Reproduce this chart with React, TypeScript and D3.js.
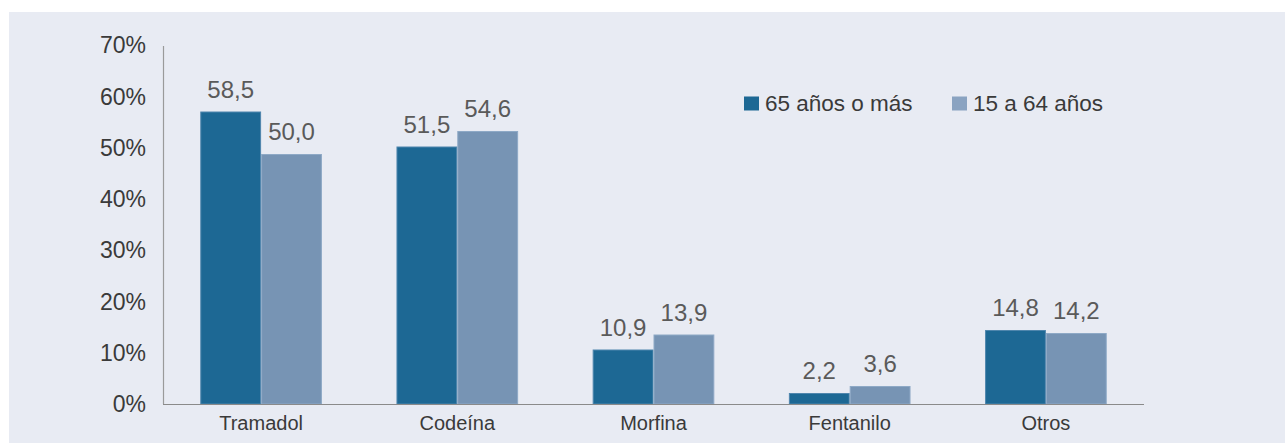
import React from 'react';
import {scaleBand, scaleLinear} from 'd3';

// datos
const categories = ['Tramadol', 'Codeína', 'Morfina', 'Fentanilo', 'Otros'];
const seriesNames = ['65 años o más', '15 a 64 años'];
const mayores = [58.5, 51.5, 10.9, 2.2, 14.8];
const jovenes = [50.0, 54.6, 13.9, 3.6, 14.2];
const yTicks = [0, 10, 20, 30, 40, 50, 60, 70];

const W = 1285;
const H = 443;
const colors = ['#1d6894', '#7794b4'];
const strokes = ['#4f86ad', '#8ea9c6'];
const legendColors = ['#1d6894', '#8aa3c1'];
const font = '"Liberation Sans", Arial, sans-serif';

const App = () => {
    const x = scaleBand().domain(categories).range([163, 1144]).paddingInner(0.38).paddingOuter(0.19);
    const sub = scaleBand().domain(['0', '1']).range([0, x.bandwidth()]);
    // eje de etiquetas
    const yAxis = scaleLinear().domain([0, 70]).range([404, 45]);
    // barras (el original las dibuja con una escala algo más corta)
    const yBar = scaleLinear().domain([0, 70]).range([404, 54]);
    const series = [mayores, jovenes];
    const fmt = (v: number) => v.toFixed(1).replace('.', ',');

    return (
        <svg width={W} height={H} style={{display: 'block', position: 'absolute', left: 0, top: 0}}>
            <rect x={0} y={0} width={W} height={H} fill="#fff"/>
            <rect x={9} y={12} width={W - 9} height={H - 12} fill="#e8ebf3"/>

            {yTicks.map(t => (
                <text key={t} x={146} y={yAxis(t)} dy="0.36em" textAnchor="end"
                      fontFamily={font} fontSize={23} fill="#3a3a3a">{t}%</text>
            ))}

            {series.map((vals, si) => vals.map((v, i) => {
                const bx = (x(categories[i]) as number) + (sub(String(si)) as number);
                const bw = sub.bandwidth();
                const top = yBar(v);
                return (
                    <g key={si + '-' + i}>
                        <rect x={bx + 0.5} y={top + 0.5} width={bw - 1} height={404 - top - 0.5}
                              fill={colors[si]} stroke={strokes[si]} strokeWidth={1}/>
                        <text x={bx + bw / 2} y={top - 14} textAnchor="middle"
                              fontFamily={font} fontSize={24} fill="#5a5a5a">{fmt(v)}</text>
                    </g>
                );
            }))}

            <line x1={163.5} x2={163.5} y1={46} y2={404} stroke="#9a9a9a" strokeWidth={1.2}/>
            <line x1={163} x2={1144} y1={404.5} y2={404.5} stroke="#8a8a8a" strokeWidth={1.2}/>

            {categories.map(c => (
                <text key={c} x={(x(c) as number) + x.bandwidth() / 2} y={430} textAnchor="middle"
                      fontFamily={font} fontSize={20} fill="#3a3a3a">{c}</text>
            ))}

            {seriesNames.map((n, i) => {
                const lx = i === 0 ? 744 : 952;
                return (
                    <g key={n}>
                        <rect x={lx} y={96.5} width={15} height={14} fill={legendColors[i]}/>
                        <text x={lx + 21} y={110.5} fontFamily={font} fontSize={22.5} fill="#3a3a3a">{n}</text>
                    </g>
                );
            })}
        </svg>
    );
};

export default App;
